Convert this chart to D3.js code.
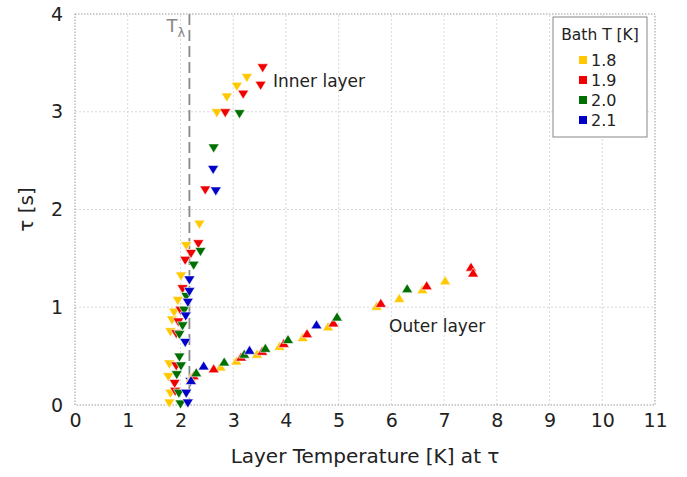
<!DOCTYPE html>
<html lang="en">
<head>
  <meta charset="UTF-8" />
  <title>Layer temperature vs tau</title>
  <script src="https://d3js.org/d3.v7.min.js"></script>
  <style>
    body { margin: 0; background: #fff; }
    text { font-family: "DejaVu Sans", sans-serif; }
  </style>
</head>
<body>
  <svg id="chart" width="687" height="477"></svg>

  <script>
    // Bath temperatures (legend) and colours
    const bathTemps = ["1.8", "1.9", "2.0", "2.1"];
    const bathColors = ["#ffc800", "#f00000", "#007000", "#0000c8"];

    // Inner layer points [T, tau] per bath temperature (down triangles)
    const inner18 = [[1.79,0.02],[1.81,0.12],[1.77,0.29],[1.79,0.42],[1.81,0.75],[1.84,0.87],[1.88,0.95],
      [1.95,1.07],[2.01,1.32],[2.11,1.63],[2.36,1.85],[2.69,2.99],[2.88,3.15],[3.07,3.26],[3.26,3.35]];
    const inner19 = [[1.90,0.14],[1.89,0.22],[1.92,0.40],[1.92,0.73],[1.96,0.85],[2.00,0.97],[2.04,1.19],
      [2.09,1.48],[2.20,1.55],[2.34,1.65],[2.47,2.20],[2.85,2.99],[3.19,3.18],[3.52,3.27],[3.56,3.45]];
    const inner20 = [[2.00,0.01],[1.97,0.12],[1.93,0.31],[2.01,0.40],[1.98,0.49],[1.98,0.72],[2.04,0.81],
      [2.07,0.97],[2.11,1.11],[2.25,1.43],[2.38,1.57],[2.63,2.63],[3.12,2.98]];
    const inner21 = [[2.14,0.02],[2.11,0.12],[2.19,0.24],[2.09,0.64],[2.10,0.91],[2.14,1.05],[2.17,1.16],
      [2.17,1.28],[2.62,2.41],[2.67,2.19]];

    // Outer layer points [T, tau] per bath temperature (up triangles)
    const outer18 = [[2.20,0.28],[2.76,0.39],[3.06,0.45],[3.45,0.52],[3.88,0.60],[4.32,0.69],[4.80,0.80],
      [5.72,1.01],[6.15,1.09],[6.59,1.18],[7.02,1.27]];
    const outer19 = [[2.25,0.30],[2.63,0.37],[3.15,0.49],[3.55,0.55],[3.96,0.63],[4.40,0.73],[4.90,0.84],
      [5.80,1.04],[6.67,1.22],[7.51,1.41],[7.55,1.35]];
    const outer20 = [[2.30,0.33],[2.83,0.44],[3.21,0.52],[3.61,0.58],[4.04,0.67],[4.97,0.90],[6.30,1.19]];
    const outer21 = [[2.20,0.25],[2.44,0.40],[3.31,0.56],[4.58,0.82]];

    const innerSets = [inner18, inner19, inner20, inner21];
    const outerSets = [outer18, outer19, outer20, outer21];

    const xTicks = d3.range(0, 12);
    const yTicks = [0, 1, 2, 3, 4];
    const tLambda = 2.17;

    const svg = d3.select("#chart");
    const margin = { top: 14, right: 32, bottom: 72, left: 75 };
    const width = 687, height = 477;

    const x = d3.scaleLinear().domain([0, 11]).range([margin.left, width - margin.right]);
    const y = d3.scaleLinear().domain([0, 4]).range([height - margin.bottom, margin.top]);

    // Grid
    svg.append("g")
      .selectAll("line")
      .data(xTicks.slice(1, -1))
      .join("line")
      .attr("x1", d => x(d)).attr("x2", d => x(d))
      .attr("y1", y(0)).attr("y2", y(4))
      .attr("stroke", "#d8d8d8").attr("stroke-dasharray", "2,2");
    svg.append("g")
      .selectAll("line")
      .data(yTicks.slice(1, -1))
      .join("line")
      .attr("x1", x(0)).attr("x2", x(11))
      .attr("y1", d => y(d)).attr("y2", d => y(d))
      .attr("stroke", "#d8d8d8").attr("stroke-dasharray", "2,2");

    // Frame
    svg.append("rect")
      .attr("x", x(0)).attr("y", y(4))
      .attr("width", x(11) - x(0)).attr("height", y(0) - y(4))
      .attr("fill", "none").attr("stroke", "#999").attr("stroke-dasharray", "1.5,1.5");

    // Axes
    const xAxis = svg.append("g")
      .attr("transform", `translate(0, ${y(0)})`)
      .call(d3.axisBottom(x).tickValues(xTicks).tickSize(0).tickPadding(9).tickFormat(d3.format("d")));
    xAxis.select(".domain").remove();
    xAxis.selectAll("text").attr("font-size", "19px").attr("fill", "#222");

    const yAxis = svg.append("g")
      .attr("transform", `translate(${x(0)}, 0)`)
      .call(d3.axisLeft(y).tickValues(yTicks).tickSize(0).tickPadding(12).tickFormat(d3.format("d")));
    yAxis.select(".domain").remove();
    yAxis.selectAll("text").attr("font-size", "19px").attr("fill", "#222");

    svg.append("text")
      .attr("x", (x(0) + x(11)) / 2).attr("y", 463)
      .attr("text-anchor", "middle").attr("font-size", "20px").attr("fill", "#222")
      .text("Layer Temperature [K] at τ");
    svg.append("text")
      .attr("transform", `translate(33, ${(y(0) + y(4)) / 2}) rotate(-90)`)
      .attr("text-anchor", "middle").attr("font-size", "20px").attr("fill", "#222")
      .text("τ [s]");

    // T lambda line
    svg.append("line")
      .attr("x1", x(tLambda)).attr("x2", x(tLambda))
      .attr("y1", y(4)).attr("y2", y(0))
      .attr("stroke", "#888").attr("stroke-width", 1.8).attr("stroke-dasharray", "11,5");
    const tl = svg.append("text")
      .attr("x", x(tLambda) - 23).attr("y", 32)
      .attr("font-size", "18px").attr("fill", "#888");
    tl.append("tspan").text("T");
    tl.append("tspan").attr("dy", 5).attr("font-size", "13px").text("λ");

    // Markers
    const down = "M-5.5,-4L5.5,-4L0,5Z";
    const up = "M-5.5,4L5.5,4L0,-5Z";

    innerSets.forEach((set, i) => {
      svg.append("g")
        .selectAll("path")
        .data(set)
        .join("path")
        .attr("d", down)
        .attr("transform", d => `translate(${x(d[0])}, ${y(d[1])})`)
        .attr("fill", bathColors[i]).attr("stroke", "#fff").attr("stroke-width", 0.6);
    });
    outerSets.forEach((set, i) => {
      svg.append("g")
        .selectAll("path")
        .data(set)
        .join("path")
        .attr("d", up)
        .attr("transform", d => `translate(${x(d[0])}, ${y(d[1])})`)
        .attr("fill", bathColors[i]).attr("stroke", "#fff").attr("stroke-width", 0.6);
    });

    // Annotations
    svg.append("text").attr("x", 273).attr("y", 87)
      .attr("font-size", "17px").attr("fill", "#222").text("Inner layer");
    svg.append("text").attr("x", 389).attr("y", 332)
      .attr("font-size", "17px").attr("fill", "#222").text("Outer layer");

    // Legend
    const lg = svg.append("g");
    lg.append("rect")
      .attr("x", 553).attr("y", 17).attr("width", 94).attr("height", 120)
      .attr("fill", "#fff").attr("stroke", "#888");
    lg.append("text").attr("x", 600).attr("y", 40)
      .attr("text-anchor", "middle").attr("font-size", "15.5px").attr("fill", "#222")
      .text("Bath T [K]");
    bathTemps.forEach((t, i) => {
      const yy = 60 + i * 20;
      lg.append("rect").attr("x", 579).attr("y", yy - 4).attr("width", 8).attr("height", 8)
        .attr("fill", bathColors[i]);
      lg.append("text").attr("x", 591).attr("y", yy + 6)
        .attr("font-size", "16px").attr("fill", "#222").text(t);
    });
  </script>
</body>
</html>
